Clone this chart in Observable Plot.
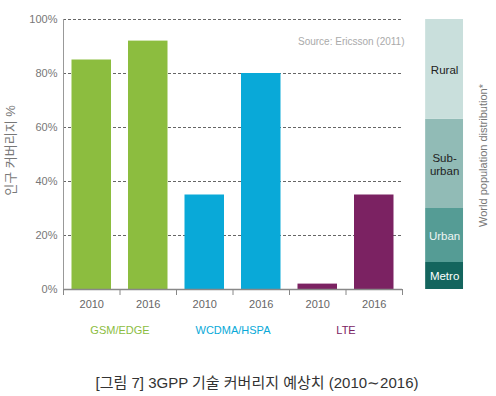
<!DOCTYPE html>
<html>
<head>
<meta charset="utf-8">
<script src="https://cdn.jsdelivr.net/npm/d3@7"></script>
<script src="https://cdn.jsdelivr.net/npm/@observablehq/plot@0.6"></script>
<style>
  body { margin: 0; background: #fff; }
  #caption { font-family: 'Liberation Sans', 'Noto Sans CJK KR', sans-serif; font-size: 15px; color: #333;
             text-align: center; padding-left: 18px; margin-top: 24px; line-height: 18px; height: 22px; }
</style>
</head>
<body>
<div id="chart"></div>
<div id="caption"></div>
<script>
// ---- data ----
const techs = ["GSM/EDGE", "WCDMA/HSPA", "LTE"];
const years = ["2010", "2016"];
const gsmValues = [85, 92];
const wcdmaValues = [35, 80];
const lteValues = [2, 35];
const yTicks = [0, 20, 40, 60, 80, 100];
const regions = ["Metro", "Urban", "Sub-\nurban", "Rural"];
const regionShares = [10, 20, 33, 37];
const sourceText = "Source: Ericsson (2011)";
const yLabel = "인구 커버리지 %";
const rightLabel = "World population distribution*";
const captionText = "[그림 7] 3GPP 기술 커버리지 예상치 (2010∼2016)";

// ---- styles ----
const techColors = ["#8cbd3f", "#09a9d8", "#7b2262"];
const regionColors = ["#14655e", "#559c95", "#91bbb6", "#c9dfdc"];
const regionText = ["#ffffff", "#eef5f4", "#222", "#222"];
const distSpan = [6.41, 7.08]; // layout position of the side bar, in slot units

// ---- tables ----
const allValues = [gsmValues, wcdmaValues, lteValues];
const bars = [];
techs.forEach((t, i) => years.forEach((y, j) => {
  bars.push({tech: t, ti: i, year: y, slot: i * years.length + j, value: allValues[i][j]});
}));
const nSlots = bars.length;
const dist = regions.map((r, i) => ({region: r, ri: i, share: regionShares[i]}));

const chart = Plot.plot({
  width: 496,
  height: 350,
  marginLeft: 63,
  marginRight: 94,
  marginTop: 19,
  marginBottom: 61,
  style: {fontFamily: "'Liberation Sans', 'Noto Sans CJK KR', sans-serif", fontSize: "11px", background: "#fff"},
  x: {domain: [0, nSlots], axis: null},
  y: {domain: [0, 100], axis: null},
  marks: [
    Plot.gridY(yTicks.filter(d => d > 0), {stroke: "#666", strokeOpacity: 1, strokeDasharray: "3,2"}),
    Plot.rectY(bars, {x1: d => d.slot, x2: d => d.slot + 1, y: "value", insetLeft: 8.5, insetRight: 8.5,
      fill: d => techColors[d.ti]}),
    Plot.rectY(dist, Plot.stackY({x1: distSpan[0], x2: distSpan[1], y: "share", fill: d => regionColors[d.ri]})),
    Plot.text(dist, Plot.stackY({x: (distSpan[0] + distSpan[1]) / 2, y: "share", text: "region",
      fill: d => regionText[d.ri], fontSize: 11.5, lineHeight: 1.15})),
    Plot.ruleY([0], {stroke: "#888", strokeWidth: 1.5}),
    Plot.ruleX([0], {stroke: "#999"}),
    Plot.axisY({ticks: yTicks, tickFormat: d => d + "%", tickSize: 0, tickPadding: 6, label: null,
      color: "#777", fontSize: 11}),
    Plot.axisX({ticks: d3.range(nSlots + 1), tickFormat: () => "", tickSize: 6, stroke: "#888", label: null}),
    Plot.text(bars, {x: d => d.slot + 0.5, text: "year", frameAnchor: "bottom", dy: 18, fill: "#666"}),
    Plot.text(techs, {x: (d, i) => i * years.length + years.length / 2, text: d => d, frameAnchor: "bottom",
      dy: 44, fill: (d, i) => techColors[i]}),
    Plot.text([sourceText], {text: d => d, frameAnchor: "top-right", textAnchor: "end", dx: 2, dy: 18,
      fill: "#aaa", fontSize: 10}),
    Plot.text([yLabel], {text: d => d, frameAnchor: "left", textAnchor: "middle", rotate: -90, dx: -53, dy: -4,
      fill: "#777", fontSize: 13}),
    Plot.text([rightLabel], {text: d => d, frameAnchor: "right", textAnchor: "middle", rotate: -90, dx: 81, dy: 1,
      fill: "#777", fontSize: 11})
  ]
});
document.getElementById("chart").appendChild(chart);
document.getElementById("caption").textContent = captionText;
</script>
</body>
</html>
